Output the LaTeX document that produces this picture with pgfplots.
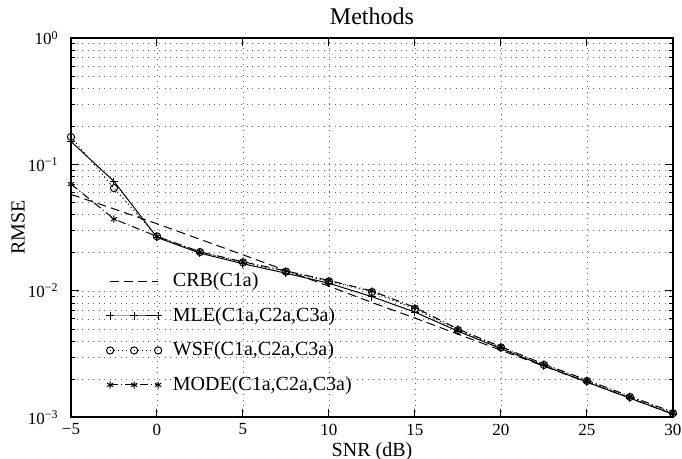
\documentclass[border=0pt]{standalone}
\usepackage{fontspec}
\setmainfont{Liberation Serif}
\usepackage{pgfplots}
\pgfplotsset{compat=1.18}
\begin{document}
\begin{tikzpicture}
\useasboundingbox (0,0) rectangle (341pt,229.5pt);
\begin{axis}[
  at={(35.5pt,20.8pt)}, anchor=south west,
  scale only axis, width=301pt, height=189.7pt,
  ymode=log, xmin=-5, xmax=30, ymin=1e-3, ymax=1,
  xtick={-5,0,5,10,15,20,25,30},
  xticklabels={−5,0,5,10,15,20,25,30},
  ytick={1e-3,1e-2,1e-1,1},
  yticklabels={10\textsuperscript{−3},10\textsuperscript{−2},10\textsuperscript{−1},10\textsuperscript{0}},
  tick align=inside,
  xtick pos=both, ytick pos=both,
  xticklabel pos=lower, yticklabel pos=left,
  major tick length=4pt, minor tick length=2pt,
  tick style={black, line width=0.5pt},
  axis line style={line width=0.9pt},
  xmajorgrids, ymajorgrids, yminorgrids,
  major grid style={black!60, line width=0.4pt, dash pattern=on 0.45pt off 2.3pt},
  minor grid style={black!60, line width=0.4pt, dash pattern=on 0.45pt off 2.3pt},
  ticklabel style={font=\fontsize{8.5}{10}\selectfont},
  xticklabel style={inner sep=0pt, yshift=-3pt},
  yticklabel style={inner sep=0pt, xshift=-6pt},
  title={Methods},
  title style={at={(0.5,1)}, anchor=base, yshift=1pt, inner sep=0pt, font=\fontsize{12}{14}\selectfont},
  xlabel={SNR (dB)},
  xlabel style={at={(axis description cs:0.5,0)}, anchor=base, yshift=-19.5pt, inner sep=0pt, font=\fontsize{10}{12}\selectfont},
  ylabel={RMSE},
  ylabel style={at={(axis description cs:-0.088,0.5)}, anchor=center, rotate=0, inner sep=0pt, font=\fontsize{10}{12}\selectfont},
  legend image code/.code={\draw[mark repeat=1,mark phase=1,#1] plot coordinates {(0pt,0pt) (12pt,0pt) (24pt,0pt)};},
  legend cell align=left,
  legend style={at={(0.058,0.392)}, anchor=north west, draw=none, fill=none, inner sep=0pt,
    row sep=4.8pt, font=\fontsize{10}{12}\selectfont,
    /tikz/every odd column/.append style={column sep=3.5pt}},
]
\addplot[black, line width=0.5pt, dash pattern=on 4.5pt off 2.5pt] coordinates {
(-5,0.058) (-2.5,0.0445) (0,0.0340) (2.5,0.0256) (5,0.0193) (7.5,0.0145) (10,0.0109)
(12.5,0.0081) (15,0.0061) (17.5,0.00455) (20,0.00340) (22.5,0.00254) (25,0.00190) (27.5,0.00142) (30,0.00106)};
\addlegendentry{CRB(C1a)}
\addplot[black, line width=0.5pt, solid, mark=+, mark size=1.9pt, mark options={solid}] coordinates {
(-5,0.152) (-2.5,0.0735) (0,0.0265) (2.5,0.0199) (5,0.0164) (7.5,0.0138) (10,0.0115)
(12.5,0.0090) (15,0.0068) (17.5,0.0048) (20,0.00350) (22.5,0.00256) (25,0.00190) (27.5,0.00142) (30,0.00106)};
\addlegendentry{MLE(C1a,C2a,C3a)}
\addplot[black, line width=0.5pt, dash pattern=on 0.5pt off 1.5pt, mark=o, mark size=1.8pt, mark options={solid}] coordinates {
(-5,0.165) (-2.5,0.065) (0,0.0270) (2.5,0.0203) (5,0.0168) (7.5,0.0142) (10,0.0119)
(12.5,0.0098) (15,0.0072) (17.5,0.0049) (20,0.00357) (22.5,0.00260) (25,0.00194) (27.5,0.00145) (30,0.00108)};
\addlegendentry{WSF(C1a,C2a,C3a)}
\addplot[black, line width=0.5pt, dash pattern=on 4pt off 1.5pt on 0.5pt off 1.5pt, mark=asterisk, mark size=1.8pt, mark options={solid}] coordinates {
(-5,0.070) (-2.5,0.037) (0,0.0270) (2.5,0.0204) (5,0.0170) (7.5,0.0144) (10,0.0121)
(12.5,0.0100) (15,0.0074) (17.5,0.0050) (20,0.00362) (22.5,0.00264) (25,0.00197) (27.5,0.00147) (30,0.00110)};
\addlegendentry{MODE(C1a,C2a,C3a)}
\end{axis}
\end{tikzpicture}
\end{document}
